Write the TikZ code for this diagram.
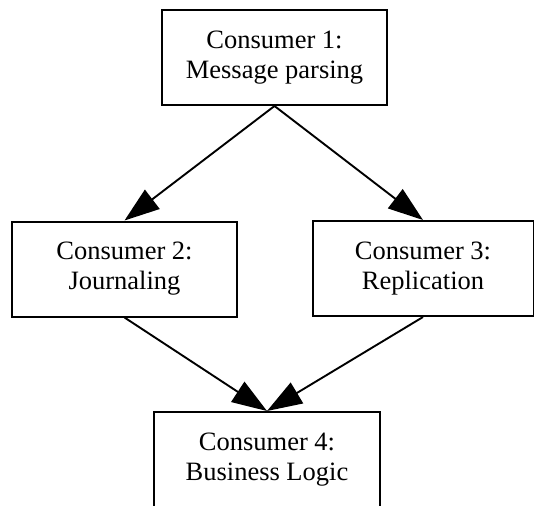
\documentclass[tikz,border=0pt]{standalone}
\usepackage{fontspec}
\setmainfont{Liberation Serif}
\usetikzlibrary{arrows.meta}
\begin{document}
\begin{tikzpicture}[x=1pt,y=1pt,
  box/.style={draw, line width=2pt, rectangle, minimum height=95pt, align=center,
    inner sep=0pt, font=\fontsize{26.5}{30}\selectfont},
  conn/.style={line width=1.9pt, -{Triangle[length=35pt,width=24pt]}}]
\useasboundingbox (0,0) rectangle (534,-505);
\clip (0,0) rectangle (534,-505);
\node[box, minimum width=225pt] (n1) at (274.5,-57.5) {Consumer 1:\\Message parsing};
\node[box, minimum width=225pt] (n2) at (124.5,-269) {Consumer 2:\\Journaling};
\node[box, minimum width=221pt] (n3) at (423,-268.5) {Consumer 3:\\Replication};
\node[box, minimum width=226pt] (n4) at (267,-459.5) {Consumer 4:\\Business Logic};
\draw[conn] (n1.south) -- (n2.north);
\draw[conn] (n1.south) -- (n3.north);
\draw[conn] (n2.south) -- (n4.north);
\draw[conn] (n3.south) -- (n4.north);
\end{tikzpicture}
\end{document}
